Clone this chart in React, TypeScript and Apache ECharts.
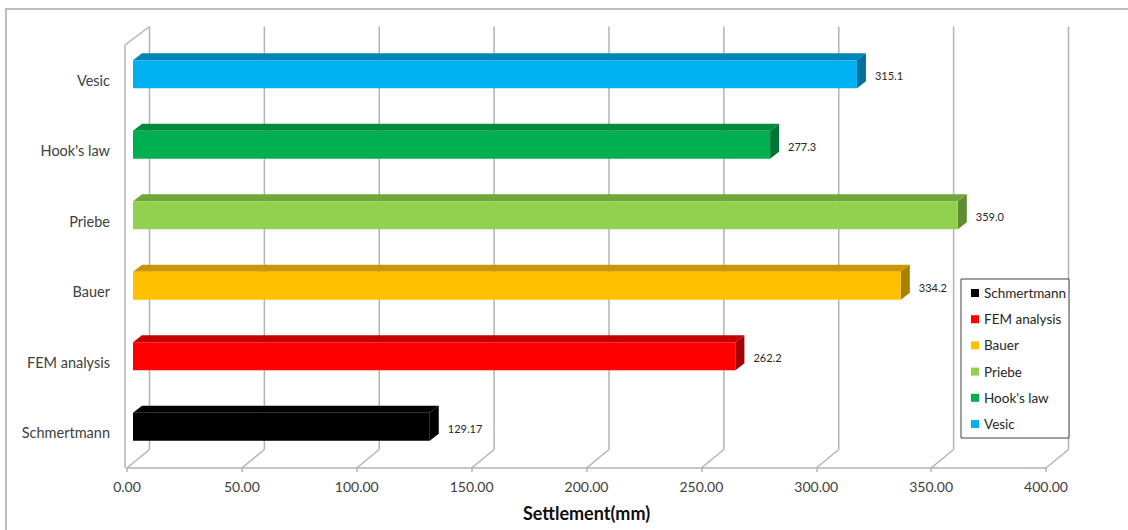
import React, { useEffect, useRef } from "react";
import * as echarts from "echarts";

// Settlement predicted by each method (mm)
const categories = ["Schmertmann", "FEM analysis", "Bauer", "Priebe", "Hook's law", "Vesic"];
const settlements = [129.17, 262.2, 334.2, 359.0, 277.3, 315.1];
const xTicks = [0, 50, 100, 150, 200, 250, 300, 350, 400];

// front / top / side shades of each bar
const faceColors = ["#000000", "#FF0000", "#FFC000", "#92D050", "#00B050", "#00B0F0"];
const topColors = ["#000000", "#C40000", "#C99700", "#71A63B", "#008A3E", "#0085B8"];
const sideColors = ["#000000", "#A30000", "#A98000", "#5F8C32", "#007434", "#006F99"];

const FONT = "Lato, 'Open Sans', sans-serif";
const TEXT = "#404040";
const WALL = "#b3b3b3";

// depth offsets of the 3D box
const WALL_DX = 22.5;
const WALL_DY = -18.5;
const BAR_DX = 6;
const BAR_DY = -6;
const DEPTH_DX = 9;
const DEPTH_DY = -7;

function formatValue(v: number): string {
  const tenths = v * 10;
  return Math.abs(Math.round(tenths) - tenths) < 1e-9 ? v.toFixed(1) : v.toFixed(2);
}

export default function App() {
  const ref = useRef<HTMLDivElement>(null);

  useEffect(() => {
    if (!ref.current) return;
    const chart = echarts.init(ref.current, null, { renderer: "svg" });

    const wallSeries = {
      type: "custom",
      name: "wall",
      silent: true,
      z: 1,
      encode: { x: 0, y: 1 },
      data: xTicks.map((t) => [t, 0]),
      renderItem: (params: any, api: any) => {
        const cs = params.coordSys;
        const x = api.coord([api.value(0), 0])[0];
        const bottom = cs.y + cs.height;
        const top = cs.y;
        const style = { stroke: WALL, lineWidth: 1.5 };
        const children: any[] = [
          { type: "line", shape: { x1: x, y1: bottom, x2: x + WALL_DX, y2: bottom + WALL_DY }, style },
          { type: "line", shape: { x1: x + WALL_DX, y1: bottom + WALL_DY, x2: x + WALL_DX, y2: top + WALL_DY }, style },
        ];
        if (params.dataIndex === 0) {
          children.push(
            { type: "line", shape: { x1: x - 2, y1: bottom, x2: x - 2, y2: top }, style },
            { type: "line", shape: { x1: x - 2, y1: top, x2: x + WALL_DX, y2: top + WALL_DY }, style }
          );
        }
        return { type: "group", children };
      },
    };

    const barSeries = categories.map((name, i) => ({
      type: "custom",
      name,
      z: 3,
      itemStyle: { color: faceColors[i] },
      encode: { x: 0, y: 1 },
      data: [[settlements[i], i]],
      renderItem: (params: any, api: any) => {
        const v = api.value(0);
        const cat = api.value(1);
        const start = api.coord([0, cat]);
        const end = api.coord([v, cat]);
        const h = api.size([0, 1])[1] * 0.4;
        const x0 = start[0] + BAR_DX;
        const x1 = end[0] + BAR_DX;
        const yc = start[1] + BAR_DY;
        const t = yc - h / 2;
        const b = yc + h / 2;
        return {
          type: "group",
          children: [
            {
              type: "polygon",
              shape: { points: [[x0, t], [x0 + DEPTH_DX, t + DEPTH_DY], [x1 + DEPTH_DX, t + DEPTH_DY], [x1, t]] },
              style: { fill: topColors[i] },
            },
            {
              type: "polygon",
              shape: { points: [[x1, t], [x1 + DEPTH_DX, t + DEPTH_DY], [x1 + DEPTH_DX, b + DEPTH_DY], [x1, b]] },
              style: { fill: sideColors[i] },
            },
            {
              type: "rect",
              shape: { x: x0, y: t, width: x1 - x0, height: h },
              style: { fill: faceColors[i] },
            },
            {
              type: "text",
              x: x1 + DEPTH_DX + 9,
              y: yc + 1.5,
              style: {
                text: formatValue(v),
                fill: "#262626",
                fontSize: 11,
                fontFamily: FONT,
                align: "left",
                verticalAlign: "middle",
              },
            },
          ],
        };
      },
    }));

    chart.setOption({
      animation: false,
      backgroundColor: "#ffffff",
      grid: { left: 127, right: 82, top: 45, bottom: 62, containLabel: false },
      legend: {
        orient: "vertical",
        left: 966,
        top: 281,
        itemWidth: 8,
        itemHeight: 8,
        itemGap: 12.2,
        icon: "rect",
        data: categories,
        selectedMode: false,
        z: 6,
        textStyle: { color: "#262626", fontSize: 13.5, fontFamily: FONT, lineHeight: 14 },
      },
      graphic: [
        {
          type: "rect",
          z: 0,
          silent: true,
          shape: { x: 6, y: 9, width: 1200, height: 600 },
          style: { fill: "none", stroke: "#bdbdbd", lineWidth: 2 },
        },
        {
          type: "rect",
          z: 5,
          silent: true,
          shape: { x: 961, y: 279, width: 108, height: 159 },
          style: { fill: "#ffffff", stroke: "#404040", lineWidth: 1 },
        },
      ],
      xAxis: {
        type: "value",
        min: 0,
        max: 400,
        interval: 50,
        name: "Settlement(mm)",
        nameLocation: "middle",
        nameGap: 36,
        nameTextStyle: { color: "#0d0d0d", fontSize: 18, fontWeight: "bold", fontFamily: FONT },
        axisLine: { show: true, lineStyle: { color: WALL, width: 1.5 } },
        axisTick: { show: true, length: 4, lineStyle: { color: WALL, width: 1.5 } },
        splitLine: { show: false },
        axisLabel: {
          color: TEXT,
          fontSize: 14,
          fontFamily: FONT,
          margin: 11,
          formatter: (v: number) => v.toFixed(2),
        },
      },
      yAxis: {
        type: "category",
        data: categories,
        axisLine: { show: false },
        axisTick: { show: false },
        splitLine: { show: false },
        axisLabel: { color: TEXT, fontSize: 14.5, fontFamily: FONT, margin: 17 },
      },
      series: [wallSeries, ...barSeries],
    });

    return () => chart.dispose();
  }, []);

  return (
    <div
      ref={ref}
      style={{ position: "fixed", left: 0, top: 0, width: 1128, height: 530, background: "#fff" }}
    />
  );
}
